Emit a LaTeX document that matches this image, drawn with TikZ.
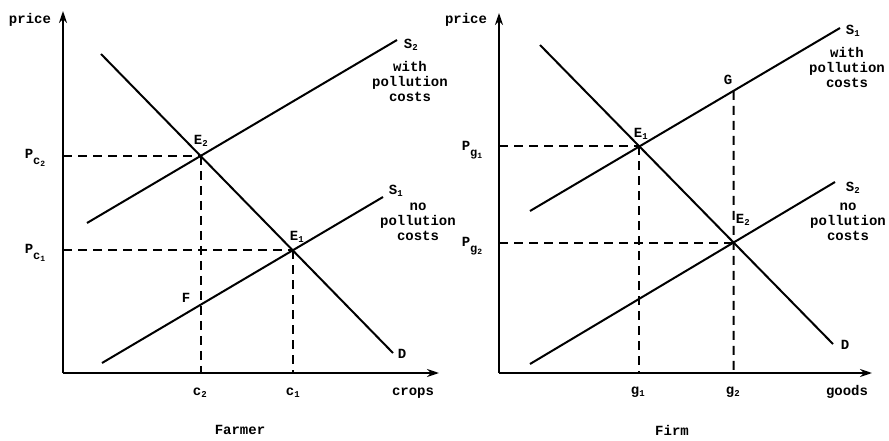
\documentclass[tikz,border=0pt]{standalone}
\usepackage{fontspec}
\setmonofont{Liberation Mono}
\usetikzlibrary{arrows.meta}
\newcommand{\sbs}[1]{\textsubscript{\fontsize{9}{9}\selectfont #1}}
\newcommand{\plab}[2]{P\raisebox{-6pt}{\fontsize{12}{12}\selectfont #1\raisebox{-2pt}{\fontsize{8}{8}\selectfont #2}}}
\begin{document}
\begin{tikzpicture}[x=1pt,y=-1pt,
  txt/.style={font=\ttfamily\bfseries\fontsize{14}{15}\selectfont, inner sep=0pt, align=center},
  axis/.style={line width=2.2pt, -{Stealth[length=12pt,width=8pt]}},
  curve/.style={line width=2pt},
  guide/.style={line width=2pt, dash pattern=on 9pt off 6pt}]
\useasboundingbox (0,0) rectangle (889,441);
% ---------- Left panel (Farmer) ----------
\coordinate (O1) at (63,373);
\coordinate (Y1) at (63,11);
\coordinate (X1) at (439,373);
\coordinate (D1a) at (101,54);
\coordinate (D1b) at (393,353);
\coordinate (S2a) at (87,223);
\coordinate (S2b) at (397,40);
\coordinate (S1a) at (102,363);
\coordinate (S1b) at (383,197);
\coordinate (E2) at (intersection of D1a--D1b and S2a--S2b);
\coordinate (E1) at (intersection of D1a--D1b and S1a--S1b);
\coordinate (pc2) at (O1 |- E2);
\coordinate (pc1) at (O1 |- E1);
\coordinate (c2) at (E2 |- O1);
\coordinate (c1) at (E1 |- O1);
\coordinate (F) at (intersection of S1a--S1b and E2--c2);
\draw[axis] (O1) -- (Y1);
\draw[axis] (O1) -- (X1);
\draw[curve] (D1a) -- (D1b);
\draw[curve] (S2a) -- (S2b);
\draw[curve] (S1a) -- (S1b);
\draw[guide] (pc2) -- (E2);
\draw[guide] (pc1) -- (E1);
\draw[guide] (E2) -- (c2);
\draw[guide] (E1) -- (c1);
\node[txt] (lprice) at (30,20) {price};
\node[txt] (lpc2) at (35,158) {\plab{c}{2}};
\node[txt] (lpc1) at (35,253) {\plab{c}{1}};
\node[txt] (lE2) at (201,141) {E\sbs{2}};
\node[txt] (lE1) at (297,237) {E\sbs{1}};
\node[txt] (lF) at (186,298) {F};
\node[txt] (lD1) at (402,354) {D};
\node[txt] (lS2) at (411,45) {S\sbs{2}};
\node[txt] (lS2t) at (410,81) {with\\pollution\\costs};
\node[txt] (lS1) at (396,191) {S\sbs{1}};
\node[txt] (lS1t) at (418,222) {no\\pollution\\costs};
\node[txt] (lc2) at (200,393) {c\sbs{2}};
\node[txt] (lc1) at (293,393) {c\sbs{1}};
\node[txt] (lcrops) at (413,393) {crops};
\node[txt] (lfarmer) at (240,430) {Farmer};
% ---------- Right panel (Firm) ----------
\coordinate (O2) at (499,373);
\coordinate (Y2) at (499,13);
\coordinate (X2) at (872,373);
\coordinate (D2a) at (540,45);
\coordinate (D2b) at (833,344);
\coordinate (R1a) at (530,211);
\coordinate (R1b) at (840,28);
\coordinate (R2a) at (530,364);
\coordinate (R2b) at (835,182);
\coordinate (F1) at (intersection of D2a--D2b and R1a--R1b);
\coordinate (F2) at (intersection of D2a--D2b and R2a--R2b);
\coordinate (pg1) at (O2 |- F1);
\coordinate (pg2) at (O2 |- F2);
\coordinate (g1) at (F1 |- O2);
\coordinate (g2) at (F2 |- O2);
\coordinate (gtop) at (F2 |- Y2);
\coordinate (G) at (intersection of R1a--R1b and g2--gtop);
\draw[axis] (O2) -- (Y2);
\draw[axis] (O2) -- (X2);
\draw[curve] (D2a) -- (D2b);
\draw[curve] (R1a) -- (R1b);
\draw[curve] (R2a) -- (R2b);
\draw[guide] (pg1) -- (F1);
\draw[guide] (pg2) -- (F2);
\draw[guide] (F1) -- (g1);
\draw[guide] (G) -- (g2);
\node[txt] (rprice) at (466,20) {price};
\node[txt] (rpg1) at (472,150) {\plab{g}{1}};
\node[txt] (rpg2) at (472,246) {\plab{g}{2}};
\node[txt] (rE1) at (641,134) {E\sbs{1}};
\node[txt] (rE2) at (743,220) {E\sbs{2}};
\node[txt] (rG) at (728,80) {G};
\node[txt] (rS1) at (853,31) {S\sbs{1}};
\node[txt] (rS1t) at (847,67) {with\\pollution\\costs};
\node[txt] (rS2) at (853,188) {S\sbs{2}};
\node[txt] (rS2t) at (848,222) {no\\pollution\\costs};
\node[txt] (rD) at (845,345) {D};
\node[txt] (rg1) at (638,392) {g\sbs{1}};
\node[txt] (rg2) at (733,392) {g\sbs{2}};
\node[txt] (rgoods) at (847,392) {goods};
\node[txt] (rfirm) at (672,430) {Firm};
\end{tikzpicture}
\end{document}
